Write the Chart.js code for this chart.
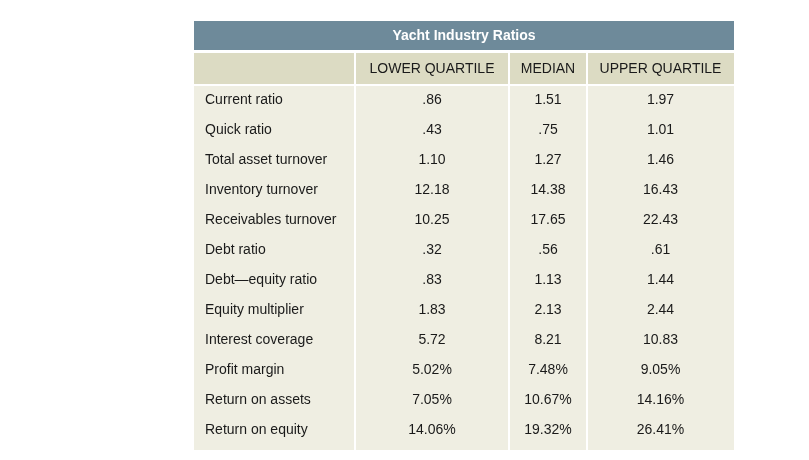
<!DOCTYPE html>
<html><head><meta charset="utf-8">
<script src="https://cdn.jsdelivr.net/npm/chart.js"></script>
<style>html,body{margin:0;background:#fff}#wrap{width:809px;height:460px}</style>
</head><body><div id="wrap"><canvas id="c"></canvas></div>
<script>
const titulo = 'Yacht Industry Ratios';
const colunas = ['LOWER QUARTILE', 'MEDIAN', 'UPPER QUARTILE'];
const linhas = ['Current ratio','Quick ratio','Total asset turnover','Inventory turnover','Receivables turnover',
  'Debt ratio','Debt\u2014equity ratio','Equity multiplier','Interest coverage','Profit margin','Return on assets','Return on equity'];
const lower = ['.86','.43','1.10','12.18','10.25','.32','.83','1.83','5.72','5.02%','7.05%','14.06%'];
const median = ['1.51','.75','1.27','14.38','17.65','.56','1.13','2.13','8.21','7.48%','10.67%','19.32%'];
const upper = ['1.97','1.01','1.46','16.43','22.43','.61','1.44','2.44','10.83','9.05%','14.16%','26.41%'];

// layout da tabela (px dentro da area do grafico)
const bordas = [0, 161, 315, 393, 540];
const fonte = "'Liberation Sans', Arial, sans-serif";

const series = [lower, median, upper];
const pontos = [];
series.forEach((s, c) => s.forEach((v, r) => {
  pontos.push({x: (bordas[c+1] + bordas[c+2]) / 2, y: 79 + 30 * r, txt: v});
}));
linhas.forEach((l, r) => pontos.push({x: 11, y: 79 + 30 * r, txt: l, left: true}));

const tabelaPlugin = {
  id: 'tabela',
  beforeDatasetsDraw(chart) {
    const {ctx, scales: {x, y}} = chart;
    ctx.save();
    // faixa do titulo
    ctx.fillStyle = '#6e8a9a';
    ctx.fillRect(x.getPixelForValue(0), y.getPixelForValue(0), x.getPixelForValue(540) - x.getPixelForValue(0), y.getPixelForValue(29) - y.getPixelForValue(0));
    for (let c = 0; c < 4; c++) {
      const x0 = x.getPixelForValue(bordas[c] + (c ? 1 : 0));
      const x1 = x.getPixelForValue(bordas[c+1] - (c < 3 ? 1 : 0));
      ctx.fillStyle = '#dcdbc3';
      ctx.fillRect(x0, y.getPixelForValue(32), x1 - x0, y.getPixelForValue(63) - y.getPixelForValue(32));
      ctx.fillStyle = '#efeee2';
      ctx.fillRect(x0, y.getPixelForValue(65), x1 - x0, y.getPixelForValue(429) - y.getPixelForValue(65));
    }
    ctx.textBaseline = 'middle';
    ctx.textAlign = 'center';
    ctx.fillStyle = '#fff';
    ctx.font = 'bold 14px ' + fonte;
    ctx.fillText(titulo, x.getPixelForValue(270), y.getPixelForValue(15));
    ctx.fillStyle = '#1a1a1a';
    ctx.font = '14px ' + fonte;
    colunas.forEach((t, c) => ctx.fillText(t, x.getPixelForValue((bordas[c+1] + bordas[c+2]) / 2), y.getPixelForValue(48)));
    ctx.restore();
  },
  afterDatasetsDraw(chart) {
    const {ctx} = chart;
    const meta = chart.getDatasetMeta(0);
    ctx.save();
    ctx.fillStyle = '#1a1a1a';
    ctx.font = '14px ' + fonte;
    ctx.textBaseline = 'middle';
    meta.data.forEach((el, i) => {
      const p = pontos[i];
      ctx.textAlign = p.left ? 'left' : 'center';
      ctx.fillText(p.txt, el.x, el.y);
    });
    ctx.restore();
  }
};

new Chart(document.getElementById('c'), {
  type: 'scatter',
  data: {datasets: [{data: pontos, pointRadius: 0}]},
  options: {
    responsive: true, maintainAspectRatio: false, animation: false,
    layout: {padding: {left: 194, right: 75, top: 21, bottom: 10}},
    plugins: {legend: {display: false}, tooltip: {enabled: false}},
    scales: {
      x: {type: 'linear', min: 0, max: 540, display: false},
      y: {type: 'linear', min: 0, max: 429, reverse: true, display: false}
    }
  },
  plugins: [tabelaPlugin]
});
</script></body></html>
